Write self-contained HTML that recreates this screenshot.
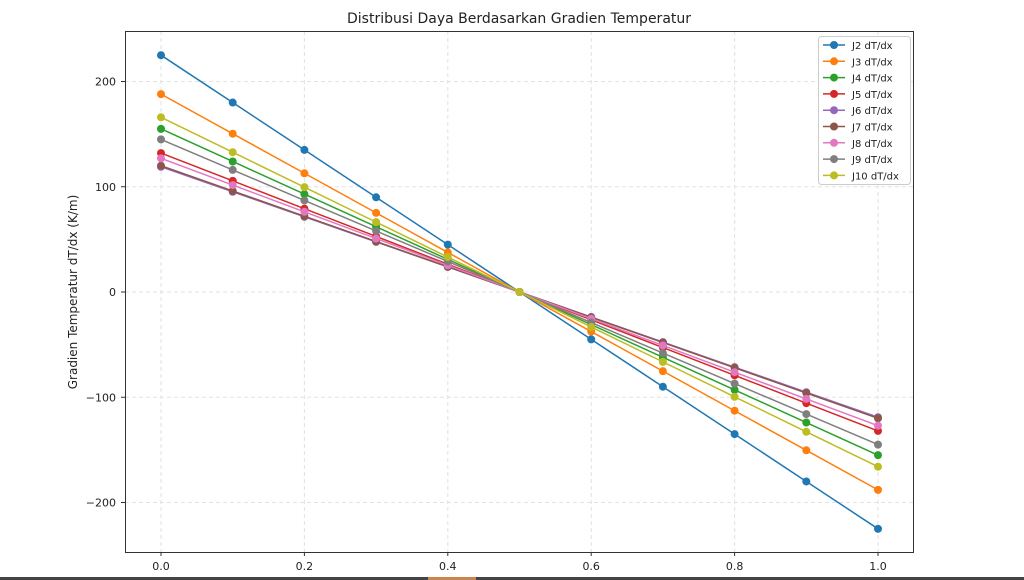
<!DOCTYPE html>
<html><head><meta charset="utf-8"><style>
html,body{margin:0;padding:0;background:#fff;width:1024px;height:580px;overflow:hidden}
text{font-family:"DejaVu Sans","Liberation Sans",sans-serif;fill:#222}
</style></head><body>
<svg id="s" width="1024" height="580" xmlns="http://www.w3.org/2000/svg">
<rect x="0" y="577" width="1024" height="3" fill="#444"/>
<rect x="428" y="577" width="48" height="3" fill="#c8864e"/>
<text x="519" y="23" font-size="14" text-anchor="middle">Distribusi Daya Berdasarkan Gradien Temperatur</text>
<text transform="translate(77,292) rotate(-90)" font-size="12" text-anchor="middle">Gradien Temperatur dT/dx (K/m)</text>
<g id="grid"></g>
<g id="series"></g>
<rect x="125.5" y="31.5" width="788" height="521" fill="none" stroke="#333" stroke-width="1"/>
<g id="legend"></g>
</svg>
<script>
var NS="http://www.w3.org/2000/svg";
function el(t,a,p,txt){var e=document.createElementNS(NS,t);for(var k in a)e.setAttribute(k,a[k]);if(txt!=null)e.textContent=txt;p.appendChild(e);return e;}
var X=function(x){return 161+x*717}, Y=function(v){return 292-v*1.0525};
var g=document.getElementById('grid');
[0,0.2,0.4,0.6,0.8,1.0].forEach(function(x){var px=X(x);
el('line',{x1:px,x2:px,y1:31,y2:552,stroke:'#e2e2e2','stroke-dasharray':'4,3'},g);
el('line',{x1:px,x2:px,y1:552,y2:556,stroke:'#333'},g);
el('text',{x:px,y:570,'font-size':11,'text-anchor':'middle'},g,x.toFixed(1));});
[200,100,0,-100,-200].forEach(function(v){var py=Y(v);
el('line',{x1:125,x2:913,y1:py,y2:py,stroke:'#e2e2e2','stroke-dasharray':'4,3'},g);
el('line',{x1:121,x2:125,y1:py,y2:py,stroke:'#333'},g);
el('text',{x:116,y:py+4,'font-size':11,'text-anchor':'end'},g,(v<0?'\u2212'+(-v):v));});
var S=[['J2',225,'#1f77b4'],['J3',188,'#ff7f0e'],['J4',155,'#2ca02c'],['J5',132,'#d62728'],['J6',119,'#9467bd'],['J7',120,'#8c564b'],['J8',127,'#e377c2'],['J9',145,'#7f7f7f'],['J10',166,'#bcbd22']];
var sg=document.getElementById('series'),lg=document.getElementById('legend');
el('rect',{x:818.5,y:36.5,width:92,height:148,rx:3,fill:'#fff',stroke:'#ccc'},lg);
S.forEach(function(s,i){var pts=[];for(var k=0;k<=10;k++){var x=k/10;pts.push(X(x)+','+Y(s[1]*(1-2*x)));}
el('polyline',{points:pts.join(' '),fill:'none',stroke:s[2],'stroke-width':1.5},sg);
pts.forEach(function(p){var c=p.split(',');el('circle',{cx:c[0],cy:c[1],r:4,fill:s[2]},sg);});
var ly=45+i*16.3;
el('line',{x1:823,x2:845,y1:ly,y2:ly,stroke:s[2],'stroke-width':1.5},lg);
el('circle',{cx:834,cy:ly,r:4,fill:s[2]},lg);
el('text',{x:852,y:ly+4,'font-size':10},lg,s[0]+' dT/dx');});
</script>
</body></html>
